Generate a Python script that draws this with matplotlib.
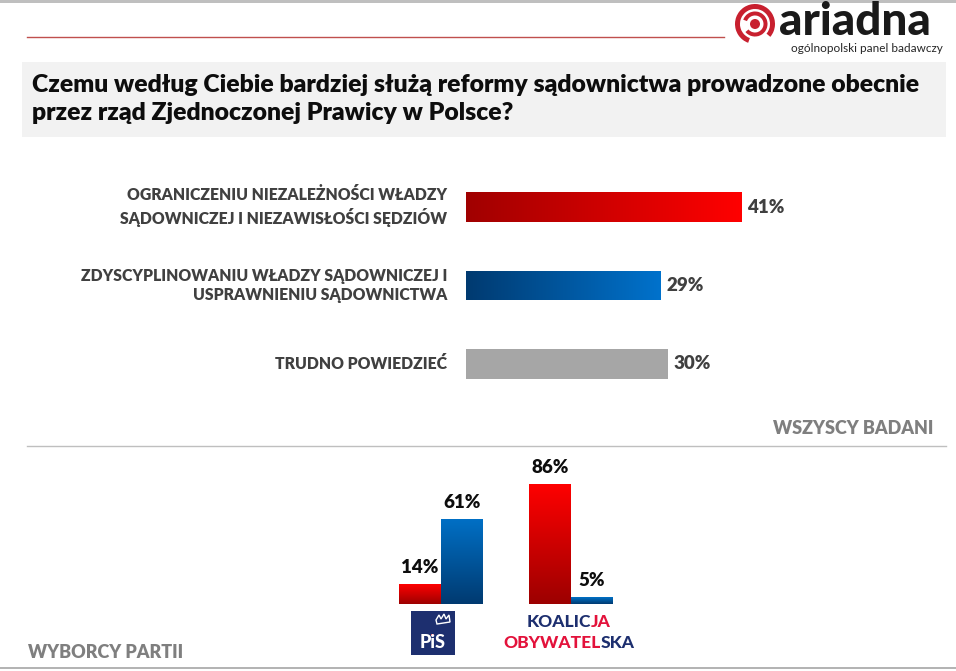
import matplotlib
matplotlib.use("Agg")
import matplotlib.pyplot as plt
import numpy as np
from matplotlib.colors import LinearSegmentedColormap
from matplotlib.patches import Rectangle, Wedge, Circle, Polygon
import matplotlib.transforms as mtransforms

# ---------------- data ----------------
title = ("Czemu według Ciebie bardziej służą reformy sądownictwa prowadzone obecnie\n"
         "przez rząd Zjednoczonej Prawicy w Polsce?")
categories = ["OGRANICZENIU NIEZALEŻNOŚCI WŁADZY\nSĄDOWNICZEJ I NIEZAWISŁOŚCI SĘDZIÓW",
              "ZDYSCYPLINOWANIU WŁADZY SĄDOWNICZEJ I\nUSPRAWNIENIU SĄDOWNICTWA",
              "TRUDNO POWIEDZIEĆ"]
all_values = [41, 29, 30]
parties = ["PiS", "KO"]
party_red = [14, 86]    # ograniczeniu niezależności
party_blue = [61, 5]    # zdyscyplinowaniu

W, H = 956, 671
FONT = "Lato"
plt.rcParams["font.family"] = [FONT, "DejaVu Sans"]

fig = plt.figure(figsize=(W / 100, H / 100), dpi=100)
fig.patch.set_facecolor("white")

def fx(x):
    return x / W

def fy(y):
    return 1 - y / H

# decoration layer in pixel coordinates
deco = fig.add_axes([0, 0, 1, 1], zorder=0)
deco.set_xlim(0, W)
deco.set_ylim(H, 0)
deco.axis("off")

# frame lines
deco.add_patch(Rectangle((0, 0), W, 3, color="#bfbfbf", lw=0))
deco.plot([0, W], [668, 668], color="#a6a6a6", lw=1.2)
# red line under header
deco.plot([27, 724], [37, 37], color="#c0504d", lw=1.0)

# logo icon
cx, cy = 755, 24
logo_red = "#c8202f"
deco.add_patch(Wedge((cx, cy), 20, 110, 400, width=5, color=logo_red, lw=0))
deco.add_patch(Wedge((cx, cy), 12.5, 200, 500, width=4, color=logo_red, lw=0))
deco.add_patch(Circle((cx, cy), 5, color=logo_red, lw=0))
deco.text(779, 22, "ariadna", fontsize=33, fontweight="black", color="#1a1a1a",
          ha="left", va="center")
deco.text(943, 49, "ogólnopolski panel badawczy", fontsize=8.5, color="#262626",
          ha="right", va="center")

# title box
deco.add_patch(Rectangle((22, 62), 924, 75, color="#f2f2f2", lw=0))
deco.text(32, 99, title, fontsize=17.8, fontweight="heavy", color="#0d0d0d",
          ha="left", va="center", linespacing=1.3)

# separators
deco.plot([27, 946], [446, 446], color="#bfbfbf", lw=1.0)
deco.text(933, 428, "WSZYSCY BADANI", fontsize=13, fontweight="heavy",
          color="#7f7f7f", ha="right", va="center")
deco.text(28, 653, "WYBORCY PARTII", fontsize=13, fontweight="heavy",
          color="#7f7f7f", ha="left", va="center")

# ---------------- horizontal bars: all respondents ----------------
px_per_pct = 6.72
ax_l, ax_r = 466, 946
ax_t, ax_b = 168, 403
ax1 = fig.add_axes([fx(ax_l), fy(ax_b), fx(ax_r - ax_l), (ax_b - ax_t) / H], zorder=1)
ax1.set_xlim(0, (ax_r - ax_l) / px_per_pct)
ax1.set_ylim(2.5, -0.5)
ax1.axis("off")
ax1.patch.set_alpha(0)

ypos = np.arange(len(categories))
bars = ax1.barh(ypos, all_values, height=0.38, color="#a6a6a6", lw=0)

cmap_red_h = LinearSegmentedColormap.from_list("rh", ["#a00000", "#ff0000"])
cmap_blue_h = LinearSegmentedColormap.from_list("bh", ["#003a70", "#0072cc"])
grad_h = np.linspace(0, 1, 256).reshape(1, -1)
for bar, cmap in zip(list(bars)[:2], [cmap_red_h, cmap_blue_h]):
    x0, y0 = bar.get_x(), bar.get_y()
    w, h = bar.get_width(), bar.get_height()
    im = ax1.imshow(grad_h, cmap=cmap, aspect="auto",
                    extent=[x0, x0 + w, y0 + h, y0], zorder=2)
    im.set_clip_path(bar)
    bar.set_facecolor("none")
ax1.set_xlim(0, (ax_r - ax_l) / px_per_pct)
ax1.set_ylim(2.5, -0.5)

lab_tr = mtransforms.offset_copy(ax1.transData, fig=fig, x=-19, y=0, units="dots")
val_tr = mtransforms.offset_copy(ax1.transData, fig=fig, x=6, y=0, units="dots")
for i, (cat, v) in enumerate(zip(categories, all_values)):
    ax1.text(0, i, cat, transform=lab_tr, ha="right", va="center", fontsize=11.3,
             fontweight="heavy", color="#404040", linespacing=1.3)
    ax1.text(v, i, f"{v}%", transform=val_tr, ha="left", va="center", fontsize=13.5,
             fontweight="heavy", color="#404040")

# ---------------- vertical bars: party electorates ----------------
b_l, b_r, b_t, b_b = 300, 720, 460, 604
group_px = 130
ax2 = fig.add_axes([fx(b_l), fy(b_b), fx(b_r - b_l), (b_b - b_t) / H], zorder=1)
xmin = -(441 - b_l) / group_px
ax2.set_xlim(xmin, xmin + (b_r - b_l) / group_px)
ymax = (b_b - b_t) / 1.4
ax2.set_ylim(0, ymax)
ax2.axis("off")
ax2.patch.set_alpha(0)

gx = np.arange(len(parties))
bw = 42 / group_px
rb = ax2.bar(gx - bw / 2, party_red, width=bw, color="#e00000", lw=0)
bb = ax2.bar(gx + bw / 2, party_blue, width=bw, color="#0060b0", lw=0)

cmap_red_v = LinearSegmentedColormap.from_list("rv", ["#9c0000", "#ff0000"])
cmap_blue_v = LinearSegmentedColormap.from_list("bv", ["#003a70", "#0070c6"])
grad_v = np.linspace(0, 1, 256).reshape(-1, 1)
for group, cmap in [(rb, cmap_red_v), (bb, cmap_blue_v)]:
    for bar in group:
        x0, y0 = bar.get_x(), bar.get_y()
        w, h = bar.get_width(), bar.get_height()
        im = ax2.imshow(grad_v, cmap=cmap, aspect="auto", origin="lower",
                        extent=[x0, x0 + w, y0, y0 + h], zorder=2)
        im.set_clip_path(bar)
        bar.set_facecolor("none")
ax2.set_xlim(xmin, xmin + (b_r - b_l) / group_px)
ax2.set_ylim(0, ymax)

vt = mtransforms.offset_copy(ax2.transData, fig=fig, x=0, y=8, units="dots")
for group in (rb, bb):
    for bar in group:
        v = bar.get_height()
        ax2.text(bar.get_x() + bar.get_width() / 2, v, f"{v:g}%", transform=vt,
                 ha="center", va="bottom", fontsize=13.5, fontweight="heavy", color="#0d0d0d")

# ---------------- party logos ----------------
navy = "#1d2f6f"
ko_red = "#e3123b"
deco.add_patch(Rectangle((411, 611), 44, 44, color=navy, lw=0))
deco.text(433, 642, "PiS", fontsize=13, fontweight="black", color="white",
          ha="center", va="center")
deco.add_patch(Polygon([[436, 620], [439, 615], [441, 619], [444, 614], [446, 619],
                        [449, 615], [450, 622], [437, 624]], closed=True,
                       fc="none", ec="white", lw=1))
deco.add_patch(Rectangle((431, 634), 3, 2, color="#d01020", lw=0))

fig.canvas.draw()
renderer = fig.canvas.get_renderer()

def colored_line(xc, y, parts, size):
    texts = []
    total = 0
    for txt, col in parts:
        t = deco.text(0, y, txt, fontsize=size, fontweight="black", color=col,
                      ha="left", va="center")
        wdt = t.get_window_extent(renderer).width
        texts.append((t, wdt))
        total += wdt
    x = xc - total / 2
    for t, wdt in texts:
        t.set_x(x)
        x += wdt

colored_line(569, 622, [("KOALIC", navy), ("JA", ko_red)], 12.5)
colored_line(569, 643, [("OBYWATEL", ko_red), ("SKA", navy)], 12.5)

fig.savefig("out.png", dpi=100, facecolor="white")
